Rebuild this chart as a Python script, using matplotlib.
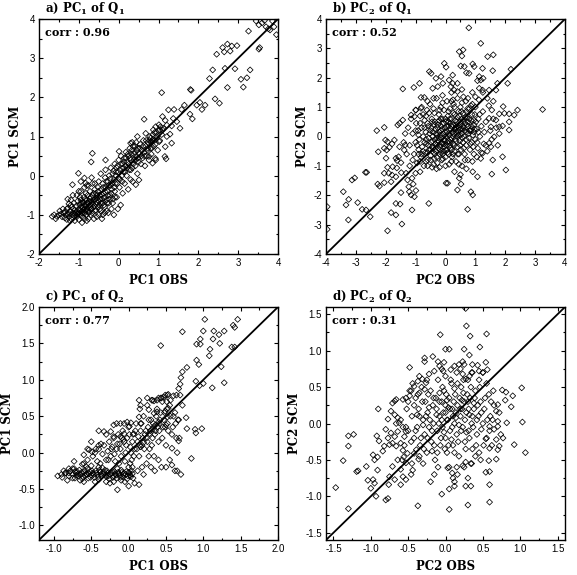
import numpy as np
import matplotlib
matplotlib.use("Agg")
import matplotlib.pyplot as plt
from matplotlib.ticker import MultipleLocator, FormatStrFormatter

plt.rcParams['mathtext.fontset'] = 'custom'
plt.rcParams['mathtext.rm'] = 'DejaVu Serif:bold'
plt.rcParams['mathtext.default'] = 'rm'

# ---------------- data (OBS, SCM) pairs ----------------
pc1_q1 = [
 (-1.67,-1.04),(-1.62,-1.0),(-1.58,-1.1),(-1.55,-1.04),(-1.48,-0.9),(-1.45,-0.98),(-1.42,-1.05),(-1.38,-0.95),
 (-1.35,-1.08),(-1.32,-1.0),(-1.3,-0.85),(-1.28,-0.98),(-1.28,-0.6),(-1.25,-1.05),(-1.25,-0.72),(-1.22,-0.9),
 (-1.22,-1.15),(-1.2,-1.1),(-1.2,-0.62),(-1.18,-0.8),(-1.16,-0.23),(-1.15,-0.95),(-1.12,-1.02),(-1.12,-0.7),
 (-1.1,-0.88),(-1.08,-0.95),(-1.05,-1.05),(-1.05,-0.5),(-1.02,-0.98),(-1.01,0.06),(-1.0,-0.85),(-1.0,-0.4),
 (-1.0,-1.12),(-0.98,-0.75),(-0.97,-0.55),(-0.95,-1.0),(-0.95,-0.62),(-0.95,-0.15),(-0.93,-0.7),(-0.92,-0.9),
 (-0.92,-1.2),(-0.9,-0.8),(-0.9,-1.05),(-0.88,-0.95),(-0.88,-0.68),(-0.86,-0.85),(-0.86,-0.3),(-0.86,-0.06),
 (-0.85,-0.75),(-0.84,-0.6),(-0.83,-0.19),(-0.82,-1.0),(-0.82,-0.45),(-0.8,-0.9),(-0.8,-0.7),(-0.8,-1.15),
 (-0.78,-0.5),(-0.78,-0.8),(-0.76,-1.1),(-0.76,-0.25),(-0.75,-0.65),(-0.74,-0.92),(-0.72,-0.4),(-0.72,-0.75),
 (-0.7,-0.55),(-0.7,-0.85),(-0.69,0.35),(-0.68,-0.7),(-0.68,-0.05),(-0.66,-0.95),(-0.66,0.57),(-0.66,-0.2),
 (-0.65,-0.5),(-0.64,-0.8),(-0.62,-0.62),(-0.62,-1.1),(-0.6,-0.35),(-0.6,-0.9),(-0.58,-0.72),(-0.57,-0.45),
 (-0.55,-0.58),(-0.55,-1.05),(-0.52,-0.8),(-0.52,-0.3),(-0.5,-0.65),(-0.5,-0.15),(-0.48,-0.5),(-0.47,-0.85),
 (-0.45,-0.7),(-0.45,0.05),(-0.44,-0.35),(-0.42,-0.6),(-0.42,-1.1),(-0.4,-0.2),(-0.4,-1.0),(-0.38,-0.45),
 (-0.37,-0.75),(-0.35,-0.55),(-0.34,-0.05),(-0.33,0.15),(-0.33,0.4),(-0.32,-0.3),(-0.3,-0.9),(-0.3,-0.62),
 (-0.28,-0.4),(-0.27,-0.15),(-0.26,-0.95),(-0.25,-0.7),(-0.24,0.0),(-0.22,-0.5),(-0.2,-0.25),(-0.2,0.2),
 (-0.18,-0.85),(-0.17,-0.35),(-0.15,0.05),(-0.14,-0.6),(-0.12,-0.1),(-0.12,-1.0),(-0.1,0.3),(-0.1,-0.4),
 (-0.08,-0.2),(-0.06,0.1),(-0.05,-0.55),(-0.03,0.25),(-0.02,-0.85),(0.0,-0.05),(0.0,0.4),(0.01,0.62),
 (0.02,-0.3),(0.04,0.15),(0.05,-0.75),(0.06,0.5),(0.08,0.0),(0.1,0.3),(0.1,-0.45),(0.12,0.1),(0.14,0.45),
 (0.15,-0.2),(0.17,0.25),(0.18,0.6),(0.2,0.0),(0.22,0.35),(0.24,-0.35),(0.25,0.5),(0.27,0.15),(0.28,0.7),
 (0.3,-0.1),(0.3,0.4),(0.3,0.83),(0.32,0.55),(0.34,0.2),(0.34,0.85),(0.35,-0.15),(0.36,0.75),(0.38,0.4),
 (0.4,0.6),(0.42,0.25),(0.43,-0.23),(0.44,0.85),(0.45,0.5),(0.47,0.05),(0.47,1.0),(0.48,0.7),(0.5,0.35),
 (0.51,-0.11),(0.52,0.55),(0.54,0.8),(0.56,0.3),(0.58,0.65),(0.6,0.45),(0.62,0.9),(0.64,0.6),(0.64,1.44),
 (0.66,0.25),(0.68,0.75),(0.68,1.08),(0.7,0.5),(0.72,0.65),(0.74,0.85),(0.76,0.4),(0.76,0.49),(0.78,1.0),
 (0.8,0.7),(0.8,0.96),(0.82,0.55),(0.83,0.87),(0.83,0.7),(0.85,0.9),(0.85,0.32),(0.87,1.17),(0.88,0.75),
 (0.9,1.1),(0.92,0.8),(0.92,0.44),(0.93,1.25),(0.93,0.4),(0.95,1.0),(0.96,0.95),(0.98,0.65),(1.0,1.15),
 (1.01,1.3),(1.02,0.87),(1.03,0.9),(1.04,1.17),(1.05,1.25),(1.08,1.05),(1.08,2.12),(1.1,1.51),(1.1,1.17),
 (1.12,1.21),(1.16,0.49),(1.17,1.41),(1.17,0.74),(1.19,0.43),(1.21,1.0),(1.21,1.29),(1.25,1.68),(1.29,1.06),
 (1.33,1.27),(1.33,0.83),(1.37,1.46),(1.39,1.69),(1.46,1.38),(1.54,1.21),(1.58,1.69),(1.65,1.8),(1.79,1.57),
 (1.8,2.2),(1.82,2.18),(1.85,1.45),(1.96,1.8),(2.04,1.87),(2.09,1.69),(2.17,1.8),(2.28,2.48),(2.36,2.7),
 (2.42,1.96),(2.46,3.1),(2.53,1.85),(2.61,3.27),(2.65,3.16),(2.67,2.74),(2.73,3.36),(2.73,2.25),(2.8,3.18),
 (2.84,3.31),(2.92,2.73),(2.97,3.32),(3.07,2.46),(3.13,2.26),(3.22,2.5),(3.26,3.69),(3.3,2.7),(3.52,3.23),
 (3.54,3.27),(3.45,3.95),(3.52,3.85),(3.6,3.9),(3.66,3.96),(3.7,3.8),(3.76,3.75),(3.8,3.72),(3.86,3.95),
 (3.9,3.8),(3.96,3.6),
 (-1.35,-0.92),(-1.3,-1.12),(-1.27,-0.82),(-1.24,-0.97),(-1.2,-0.75),(-1.17,-1.0),(-1.14,-0.85),(-1.1,-0.97),
 (-1.07,-0.78),(-1.05,-0.9),(-1.03,-0.65),(-1.0,-0.95),(-0.98,-0.88),(-0.96,-0.7),(-0.94,-0.8),(-0.92,-0.95),
 (-0.9,-0.68),(-0.89,-0.87),(-0.87,-0.55),(-0.85,-0.95),(-0.83,-0.78),(-0.81,-0.62),(-0.79,-0.85),(-0.77,-0.7),
 (-0.75,-0.95),(-0.73,-0.58),(-0.71,-0.8),(-0.69,-0.65),(-0.67,-0.85),(-0.65,-0.72),(-0.63,-0.45),(-0.61,-0.78),
 (-0.59,-0.6),(-0.57,-0.88),(-0.55,-0.5),(-0.53,-0.7),(-0.51,-0.4),(-0.49,-0.75),(-0.47,-0.6),(-0.45,-0.9),
 (-0.43,-0.48),(-0.41,-0.7),(-0.39,-0.3),(-0.37,-0.58),(-0.35,-0.8),(-0.33,-0.42),(-0.31,-0.15),(-0.29,-0.7),
 (-0.27,-0.5),(-0.25,-0.25),(-0.23,-0.6),(-0.21,-0.08),(-0.19,-0.45),(-0.17,-0.2),(-0.15,-0.7),(-0.13,0.12),
 (-0.11,-0.3),(-0.09,-0.55),(-0.07,0.0),(-0.05,0.2),(-0.03,-0.2),(-0.01,0.1),(0.03,-0.1),(0.07,0.3),
 (0.09,-0.15),(0.11,0.2),(0.13,0.35),(0.16,0.1),(0.19,0.45),(0.21,0.2),(0.23,0.55),(0.26,0.3),(0.29,0.45),
 (0.31,0.15),(0.33,0.65),(0.37,0.3),(0.39,0.55),(0.41,0.75),(0.43,0.4),(0.46,0.65),(0.49,0.45),(0.53,0.7),
 (0.57,0.5),(0.61,0.75),(0.65,0.5),(0.69,0.9),(0.73,0.7),(0.77,0.9),(0.81,0.85),(0.86,1.05),(0.9,0.9),
 (0.94,1.1),(-1.4,-0.85),(-1.5,-1.0),(-1.1,-1.15),(-0.85,-1.1),(-0.7,-1.0),(-0.5,-1.0),(-0.35,-0.95),
 (-0.6,-0.2),(-0.8,-0.25),(-0.95,-0.4),(-1.15,-0.5),
]

pc2_q1 = [
 (-3.96,-2.39),(-3.96,-3.16),(-3.42,-1.88),(-3.24,-2.14),(-3.33,-2.33),(-2.94,-2.25),(-3.25,-2.84),
 (-3.13,-1.48),(-3.04,-1.41),(-2.79,-2.48),(-2.66,-2.5),(-2.52,-2.73),(-2.68,-1.22),(-2.64,-1.22),
 (-2.3,0.2),(-2.05,0.31),(-2.25,-0.52),(-2.27,-1.62),(-2.21,-1.69),(-2.05,-1.57),(-1.94,-3.21),
 (-1.82,-2.59),(-1.66,-2.67),(-1.66,-2.28),(-1.52,-2.3),(-1.46,-2.98),(-1.12,-2.5),
 (-2.01,-0.12),(-1.94,-0.18),(-2.05,-0.4),(-1.97,-0.46),(-1.88,-0.37),(-1.79,-0.25),(-1.71,-0.12),
 (-1.66,-0.74),(-1.62,-0.82),(-1.77,-1.03),(-1.63,-1.07),(-1.49,-0.89),(-1.38,-0.46),(-1.35,-0.29),
 (-1.54,-0.35),(-1.57,-0.69),(-1.79,-1.31),(-1.66,-1.37),(-1.48,-1.23),(-1.99,-0.74),(-1.94,-1.05),
 (-1.9,-1.25),(-2.05,-1.25),(-1.82,-1.54),(-1.49,-1.91),(-1.23,-1.71),(-1.08,-1.62),(-0.99,-1.84),
 (-1.21,-1.88),(-1.15,-1.99),(-1.04,-2.05),(-1.32,-1.25),(-1.27,-1.48),(-1.12,-1.42),
 (-1.43,1.62),(-1.06,1.67),(-0.87,1.81),(-1.54,0.45),(-1.43,0.56),(-1.6,0.39),(-1.15,0.73),(-1.04,0.68),
 (-0.99,0.9),(-0.82,0.96),(-0.82,1.33),(-0.71,1.33),(-0.54,2.21),(-0.48,2.15),(-0.04,2.49),(0.02,2.36),
 (-0.32,1.98),(-0.15,2.04),(-0.43,1.64),(-0.26,1.7),(-0.09,1.81),(-0.56,-2.28),(0.02,-1.59),
 (1.18,3.17),(0.46,2.89),(0.59,2.95),(0.55,2.74),(1.41,2.72),(1.6,2.78),(0.51,2.4),(0.63,2.38),(0.7,2.17),
 (0.79,2.15),(0.91,2.47),(0.96,2.38),(1.24,2.32),(1.58,2.24),(0.24,2.09),(0.12,1.92),(0.24,1.81),
 (0.4,1.81),(0.18,1.7),(0.29,1.58),(0.4,1.53),(1.13,2.04),(1.18,1.92),(1.07,1.9),(1.26,1.98),(2.19,2.29),
 (1.74,1.81),(2.08,1.81),(1.13,1.64),(1.24,1.58),(1.46,1.58),(1.69,1.58),(3.25,0.92),(2.41,0.9),
 (2.3,0.73),(2.13,0.77),(1.97,0.79),(2.13,0.5),(1.93,1.02),(1.8,0.77),(1.69,0.56),(1.46,0.62),(1.52,0.33),
 (1.8,0.33),(1.91,0.36),(2.13,0.22),(1.63,-0.01),(1.46,-0.23),(1.52,-0.35),(1.58,-0.8),(1.24,-0.57),
 (1.91,-0.69),(2.02,-1.14),(1.55,-1.28),(0.91,-1.2),(1.07,-1.37),(0.46,-1.42),(0.52,-1.62),(0.4,-1.82),
 (0.07,-1.59),(0.85,-1.88),(0.91,-1.99),(0.74,-2.48),(0.78,3.7),
 (-1.2,-0.3),(-1.1,0.1),(-1.05,-0.6),(-1.0,-0.2),(-0.98,0.45),(-0.95,-0.9),(-0.92,0.2),(-0.9,-0.45),
 (-0.88,-0.1),(-0.85,0.7),(-0.82,-0.7),(-0.8,0.3),(-0.78,-0.35),(-0.75,0.0),(-0.72,-1.0),(-0.7,0.55),
 (-0.68,-0.55),(-0.66,0.15),(-0.64,-0.25),(-0.62,0.9),(-0.6,-0.8),(-0.58,0.35),(-0.56,-0.05),(-0.55,-0.45),
 (-0.52,1.1),(-0.5,-0.65),(-0.5,0.2),(-0.48,-0.2),(-0.46,0.6),(-0.45,-1.05),(-0.43,0.0),(-0.42,-0.4),
 (-0.4,0.4),(-0.38,-0.75),(-0.37,0.8),(-0.35,-0.1),(-0.34,0.25),(-0.32,-0.5),(-0.3,1.3),(-0.3,-0.3),
 (-0.28,0.05),(-0.27,-0.9),(-0.25,0.5),(-0.24,-0.15),(-0.22,0.75),(-0.2,-0.6),(-0.2,0.15),(-0.18,-0.35),
 (-0.16,1.0),(-0.15,-0.05),(-0.14,0.35),(-0.12,-0.8),(-0.1,0.6),(-0.1,-0.25),(-0.08,0.1),(-0.06,-0.5),
 (-0.05,0.9),(-0.04,-0.1),(-0.02,0.3),(0.0,-0.7),(0.0,0.0),(0.02,0.5),(0.03,-0.3),(0.05,1.2),(0.05,0.15),
 (0.07,-0.55),(0.08,0.7),(0.1,-0.15),(0.1,0.35),(0.12,-0.95),(0.13,0.05),(0.15,0.95),(0.16,-0.4),
 (0.18,0.25),(0.2,-0.05),(0.2,0.6),(0.22,-0.7),(0.24,0.4),(0.25,-0.25),(0.27,1.1),(0.28,0.1),(0.3,-0.5),
 (0.3,0.75),(0.32,-0.1),(0.34,0.3),(0.35,-0.85),(0.37,0.5),(0.38,0.0),(0.4,1.3),(0.4,-0.35),(0.42,0.2),
 (0.44,0.85),(0.45,-0.6),(0.47,0.4),(0.48,-0.15),(0.5,0.05),(0.5,1.0),(0.52,-0.45),(0.54,0.6),(0.55,-1.0),
 (0.57,0.25),(0.58,-0.2),(0.6,0.8),(0.62,0.0),(0.64,-0.6),(0.65,0.45),(0.68,1.2),(0.7,-0.3),(0.7,0.15),
 (0.72,0.65),(0.75,-0.8),(0.76,0.35),(0.78,-0.05),(0.8,0.95),(0.82,-0.45),(0.84,0.2),(0.86,0.55),
 (0.88,-0.2),(0.9,1.1),(0.92,0.05),(0.95,-0.6),(0.96,0.4),(0.98,0.75),(1.0,-0.1),(1.05,0.25),(1.08,-0.4),
 (1.1,0.6),(1.12,1.25),(1.15,0.0),(1.18,-0.75),(1.2,0.35),(1.25,0.85),(1.28,-0.25),(1.3,0.15),(1.35,0.5),
 (1.4,-0.5),(1.45,1.05),(1.5,0.2),
 (-0.6,-0.55),(-0.45,-0.35),(-0.35,-0.6),(-0.25,-0.4),(-0.15,-0.55),(-0.05,-0.35),(0.05,-0.45),(0.15,-0.2),
 (0.25,0.0),(0.35,0.15),(0.45,0.3),(0.55,0.1),(0.15,0.45),(-0.15,0.2),(-0.3,-0.05),(-0.5,-0.8),(-0.4,-0.95),
 (-0.2,-1.05),(-0.65,-0.85),(-0.8,-0.6),(0.6,0.35),(0.75,0.5),(0.85,0.25),(0.95,0.15),(0.1,0.85),(0.25,1.25),
 (0.6,1.35),(0.75,1.3),(0.85,1.05),(1.0,1.0),(0.4,0.65),(-0.1,-0.75),(-0.7,-0.2),(-0.9,-0.6),(-1.1,-0.8),
 (-1.2,-1.0),(-1.3,-0.6),(-1.4,-0.2),(-1.0,-1.25),(-0.85,-1.2),(0.3,-1.2),(0.5,-1.3),(0.7,-1.1),(0.9,-0.85),
 (1.05,-0.7),(1.2,-0.55),(1.35,-0.3),(1.55,-0.1),(1.6,0.6),(1.7,0.3),(1.8,0.1),(1.75,-0.3),(1.55,0.9),
 (1.6,1.2),(1.4,1.3),(1.25,1.5),(1.0,1.35),(0.9,1.5),(0.55,1.6),(0.2,1.5),(-0.1,1.4),(-0.4,1.3),(-0.6,1.2),
 (-0.8,1.0),(-1.0,0.9),(-1.15,0.6),(-1.25,0.3),(-1.35,0.1),(-0.85,0.45),(-0.65,0.7),
 (-0.75,-0.5),(-0.7,0.3),(-0.65,-0.1),(-0.6,0.45),(-0.57,-0.3),(-0.53,0.1),(-0.5,-0.45),(-0.47,0.3),
 (-0.44,-0.15),(-0.41,0.15),(-0.39,-0.55),(-0.36,0.5),(-0.33,-0.25),(-0.31,0.1),(-0.29,-0.7),(-0.26,0.3),
 (-0.23,-0.05),(-0.21,0.55),(-0.19,-0.45),(-0.17,0.05),(-0.13,-0.2),(-0.11,0.25),(-0.09,-0.6),(-0.07,0.45),
 (-0.03,-0.15),(-0.01,0.15),(0.01,-0.45),(0.04,0.35),(0.06,-0.2),(0.09,0.1),(0.11,-0.6),(0.14,0.6),
 (0.17,-0.1),(0.19,0.35),(0.21,-0.45),(0.23,0.15),(0.26,0.8),(0.29,-0.3),(0.31,0.25),(0.33,0.55),
 (0.36,-0.15),(0.39,0.35),(0.41,-0.6),(0.43,0.05),(0.46,0.7),(0.49,-0.3),(0.51,0.25),(0.53,0.85),
 (0.56,-0.05),(0.59,0.55),(0.61,-0.4),(0.63,0.2),(0.66,0.65),(0.69,-0.1),(0.71,0.4),(0.74,0.95),(0.77,0.1),
 (0.79,0.6),(0.83,-0.25),(0.87,0.35),(0.89,0.75),(0.93,-0.35),(0.97,0.25),(1.02,0.5),(1.06,-0.2),(1.1,0.15),
 (1.14,0.75),(-0.9,0.05),(-0.95,-0.3),(-1.0,0.2),(-0.85,-0.85),(-0.6,-1.0),(-0.3,-1.1),(0.0,-1.0),(0.2,-0.85),
 (0.45,-0.95),(0.65,-0.8),(0.0,0.6),(-0.2,0.9),(-0.4,0.95),(0.3,1.0),(0.2,1.2),(0.55,1.15),(-0.1,1.15),
 (-0.55,0.8),(-0.75,0.75),(0.1,0.5),(0.35,0.4),(-0.05,-0.25),(0.25,-0.6),(0.6,0.3),(0.8,0.2),(0.95,0.55),
 (-0.25,0.4),(-0.45,0.5),(0.15,-0.3),(0.4,0.1),(-0.15,0.6),(0.7,0.85),(0.5,0.5),
]

pc1_q2 = [
 (1.02,1.83),(1.46,1.83),(0.72,1.66),(0.43,1.47),(1.0,1.67),(1.14,1.67),(1.21,1.62),(1.28,1.67),(1.13,1.56),
 (1.22,1.5),(0.96,1.56),(0.91,1.49),(0.96,1.49),(1.09,1.42),(1.08,1.33),(1.4,1.75),(1.42,1.72),(1.38,1.45),
 (1.42,1.45),(0.91,1.27),(0.94,1.21),(0.78,1.17),(0.72,1.11),(0.7,1.03),(0.69,0.94),(0.67,0.88),(1.24,1.18),
 (1.28,0.96),(1.12,0.89),(0.9,0.98),(0.95,0.92),(1.0,0.95),(0.64,0.79),(0.6,0.78),(0.69,0.79),(0.53,0.8),
 (0.49,0.79),(0.44,0.75),(0.4,0.75),(0.34,0.71),(0.31,0.72),(0.56,0.72),(0.51,0.7),(0.53,0.61),(0.49,0.57),
 (0.72,0.65),(0.77,0.48),(0.67,0.45),(0.63,0.4),(0.78,0.33),(0.89,0.32),(0.9,0.27),(0.98,0.33),(0.67,0.16),
 (0.58,0.06),(0.84,-0.08),(0.58,-0.17),(0.65,-0.25),
 (-0.95,-0.32),(-0.87,-0.25),(-0.84,-0.28),(-0.8,-0.28),(-0.75,-0.35),(-0.89,-0.34),(-0.82,-0.38),
 (-0.73,-0.22),(-0.72,-0.26),(-0.73,-0.12),(-0.62,-0.16),(-0.57,-0.19),(-0.6,-0.03),(-0.53,0.04),(-0.49,0.01),
 (-0.44,0.05),(-0.4,0.1),(-0.37,0.12),(-0.33,0.29),(-0.24,0.29),(-0.2,0.22),(-0.16,0.4),(-0.11,0.4),
 (-0.06,0.4),(-0.02,0.42),(0.03,0.41),(0.01,0.36),(-0.11,0.22),(0.07,0.26),(-0.06,0.26),(-0.15,-0.51),
 (0.0,-0.46),(0.14,-0.44),(0.14,0.72),(0.16,0.65),(0.25,0.75),(0.32,0.72),(0.38,0.72),(0.43,0.75),(0.47,0.76),
 (0.52,0.79),(0.27,0.59),(0.34,0.54),(0.38,0.56),(0.14,0.49),(0.16,0.4),(0.34,0.36),(0.41,0.4),(0.5,0.38),
 (0.52,0.49),
 (-0.85,-0.28),(-0.8,-0.32),(-0.78,-0.25),(-0.75,-0.3),(-0.72,-0.35),(-0.7,-0.28),(-0.68,-0.32),(-0.66,-0.24),
 (-0.64,-0.3),(-0.62,-0.36),(-0.6,-0.27),(-0.58,-0.32),(-0.56,-0.29),(-0.54,-0.35),(-0.52,-0.26),(-0.5,-0.31),
 (-0.48,-0.28),(-0.46,-0.34),(-0.44,-0.25),(-0.42,-0.3),(-0.4,-0.37),(-0.38,-0.27),(-0.36,-0.32),(-0.34,-0.29),
 (-0.32,-0.24),(-0.3,-0.33),(-0.28,-0.28),(-0.26,-0.36),(-0.24,-0.3),(-0.22,-0.26),(-0.2,-0.32),(-0.18,-0.29),
 (-0.16,-0.35),(-0.14,-0.27),(-0.12,-0.31),(-0.1,-0.24),(-0.08,-0.33),(-0.06,-0.28),(-0.04,-0.3),(-0.02,-0.36),
 (0.0,-0.27),(0.02,-0.31),(0.04,-0.25),(-0.55,-0.22),(-0.45,-0.4),(-0.35,-0.21),(-0.25,-0.42),(-0.15,-0.22),
 (-0.05,-0.4),(-0.65,-0.38),(-0.75,-0.22),(-0.3,-0.4),(-0.1,-0.38),
 (-0.6,-0.15),(-0.55,-0.1),(-0.5,-0.18),(-0.48,-0.05),(-0.45,0.0),(-0.42,-0.12),(-0.4,0.05),(-0.38,-0.15),
 (-0.35,-0.02),(-0.33,0.1),(-0.3,-0.1),(-0.28,0.02),(-0.26,0.15),(-0.24,-0.05),(-0.22,0.08),(-0.2,0.2),
 (-0.18,-0.12),(-0.16,0.05),(-0.14,0.25),(-0.12,0.12),(-0.1,-0.05),(-0.08,0.3),(-0.06,0.15),(-0.04,0.0),
 (-0.02,0.2),(0.0,0.35),(0.02,0.08),(0.04,-0.1),(0.06,0.25),(0.08,0.05),(0.1,0.4),(0.12,0.15),(0.14,-0.05),
 (0.16,0.3),(0.18,0.1),(0.2,0.5),(0.22,0.25),(0.24,-0.15),(0.26,0.35),(0.28,0.05),(0.3,0.45),(0.32,0.2),
 (0.34,-0.05),(0.36,0.3),(0.38,0.6),(0.4,0.15),(0.42,0.45),(0.44,-0.2),(0.46,0.35),(0.48,0.55),(0.5,0.1),
 (0.52,0.4),(0.55,-0.1),(0.58,0.25),(0.6,0.5),(0.62,-0.25),(0.65,0.0),(0.68,0.2),(0.7,-0.3),(0.12,-0.25),
 (0.2,-0.3),(0.3,-0.2),(0.05,-0.2),(0.15,0.6),(0.25,0.65),(-0.3,0.25),(-0.4,0.3),(-0.5,0.15),(-0.55,0.05),
 (-0.2,0.38),(0.08,-0.42),(0.35,-0.25),(0.45,0.7),(0.55,0.65),
 (0.16,0.08),(0.2,0.14),(0.24,0.2),(0.28,0.26),(0.32,0.32),(0.36,0.38),(0.4,0.42),
 (-0.7,-0.31),(-0.69,-0.26),(-0.67,-0.29),(-0.63,-0.27),(-0.61,-0.33),(-0.59,-0.24),(-0.57,-0.3),(-0.53,-0.29),
 (-0.51,-0.34),(-0.49,-0.25),(-0.47,-0.3),(-0.43,-0.28),(-0.41,-0.33),(-0.39,-0.24),(-0.37,-0.3),(-0.33,-0.27),
 (-0.31,-0.31),(-0.29,-0.25),(-0.27,-0.32),(-0.23,-0.28),(-0.21,-0.34),(-0.19,-0.26),(-0.17,-0.31),(-0.13,-0.29),
 (-0.11,-0.34),(-0.09,-0.27),(-0.07,-0.3),(-0.03,-0.26),(-0.01,-0.32),(0.01,-0.28),(0.03,-0.33),(0.05,-0.29),
 (-0.9,-0.3),(-0.8,-0.22),(-0.6,-0.4),(-0.4,-0.2),(-0.2,-0.4),(0.0,-0.2),(0.06,-0.35),
 (-0.27,-0.1),(-0.23,0.05),(-0.19,-0.02),(-0.15,0.12),(-0.11,0.05),(-0.07,0.18),(-0.05,-0.12),(-0.03,0.1),
 (0.01,0.25),(0.03,0.0),(0.05,0.15),(0.07,-0.05),(0.09,0.3),(0.11,0.05),(0.13,0.22),(0.15,0.1),(0.17,0.4),
 (0.19,0.2),(0.21,0.05),(0.23,0.3),(0.25,0.15),(0.27,0.45),(0.29,0.3),(0.31,0.1),(0.33,0.4),(0.35,0.25),
 (0.37,0.5),(0.39,0.35),(0.41,0.3),(0.43,0.55),(0.45,0.2),(0.47,0.45),(0.49,0.35),(0.51,0.6),(0.53,0.3),
 (0.56,0.5),(0.59,0.35),(0.62,0.55),(0.64,0.2),(0.66,0.45),(-0.13,-0.15),(-0.09,0.2),(0.02,-0.15),(0.18,-0.2),
 (0.27,-0.05),(0.4,-0.1),(0.5,-0.2),
]

pc2_q2 = [
 (-1.47,-0.88),(-1.3,-1.17),(-1.37,-0.51),(-1.3,-0.17),(-1.23,-0.15),(-1.3,-0.31),(-1.19,-0.66),
 (-1.06,-0.59),(-1.04,-0.78),(-0.97,-0.77),(-0.95,-0.82),(-1.0,-0.89),(-0.93,-1.0),(-0.8,-1.05),(-0.91,-0.64),
 (-0.95,-0.5),(-0.97,-0.43),(-0.91,-0.46),(-0.84,-0.38),(-0.82,-0.31),(-0.89,-0.24),(-0.92,-0.17),
 (-0.77,-0.2),(-0.75,-0.29),(-0.71,-0.27),(-0.66,-0.31),(-0.68,-0.18),(-0.73,-0.13),(-0.64,-0.11),
 (-0.62,0.01),(-0.66,0.0),(-0.57,-0.05),(-0.53,-0.11),(-0.55,-0.18),(-0.6,-0.27),(-0.71,-0.59),(-0.64,-0.5),
 (-0.6,-0.63),(-0.57,-0.73),(-0.53,-0.77),(-0.46,-0.7),(-0.44,-0.64),(-0.36,-0.49),(-0.42,-0.41),
 (-0.39,-0.36),(-0.51,-0.41),(-0.57,-0.37),(-0.56,-0.46),(-0.53,-0.54),(-0.37,-1.13),(-0.6,-0.84),
 (-0.68,-0.77),(-0.75,-0.73),(-0.76,-0.84),(-0.9,0.2),(-0.71,0.28),(-0.68,0.31),(-0.66,0.33),(-0.57,0.33),
 (-0.53,0.35),(-0.48,0.38),(-0.73,0.17),(-0.68,0.12),(-0.64,0.08),(-0.77,0.06),(-0.8,-0.08),(-0.48,0.77),
 (-0.37,0.58),(-0.31,0.61),(-0.42,0.51),(-0.46,0.45),(-0.35,0.42),(-0.28,0.47),(-0.26,0.56),(-0.22,0.68),
 (-0.15,0.72),(-0.28,0.9),(-0.28,0.85),(-0.17,0.92),(-0.07,1.22),(0.0,1.02),(-0.08,0.79),(-0.02,0.84),
 (-0.03,0.72),(0.28,1.34),(0.33,1.2),(0.55,1.23),(0.46,1.05),(0.25,1.02),(0.32,0.94),(0.05,1.02),(0.07,0.74),
 (0.12,0.79),(0.18,0.81),(0.23,0.85),(0.25,0.81),(0.36,0.81),(0.43,0.8),(0.45,0.72),(0.54,0.84),(0.56,0.74),
 (0.5,0.7),(0.36,0.7),(0.32,0.65),(0.27,0.61),(0.23,0.68),(1.02,0.49),(0.76,0.46),(0.81,0.43),(0.9,0.38),
 (0.8,0.32),(0.88,0.23),(0.7,0.26),(0.68,0.17),(0.72,0.15),(0.82,0.01),(1.03,0.02),(0.7,0.03),(0.63,0.05),
 (0.59,-0.04),(0.65,-0.08),(0.7,-0.04),(0.74,-0.15),(0.68,-0.22),(0.77,-0.2),(0.72,-0.31),(0.7,-0.36),
 (0.59,-0.34),(0.54,-0.21),(0.92,-0.29),(1.07,-0.4),(0.68,-0.49),(0.58,-0.51),(0.47,-0.5),(0.34,-0.55),
 (0.27,-0.53),(0.23,-0.58),(0.16,-0.7),(0.09,-0.68),(0.03,-0.61),(0.59,-0.66),(0.12,-0.8),(0.12,-0.86),
 (0.27,-0.86),(0.34,-0.86),(0.59,-0.84),(0.54,-0.67),(0.05,-1.18),(0.3,-1.12),(0.59,-1.08),(-0.05,-0.97),
 (0.05,-0.9),(-1.17,-0.65),(-0.77,-1.03),(0.27,1.58),
 (-0.45,0.1),(-0.42,-0.2),(-0.4,0.35),(-0.38,-0.05),(-0.36,0.2),(-0.34,-0.3),(-0.32,0.5),(-0.3,0.05),
 (-0.28,-0.15),(-0.27,0.3),(-0.25,-0.4),(-0.24,0.15),(-0.22,-0.05),(-0.2,0.45),(-0.19,-0.25),(-0.17,0.25),
 (-0.16,0.0),(-0.14,-0.5),(-0.13,0.35),(-0.11,-0.1),(-0.1,0.6),(-0.08,0.1),(-0.07,-0.3),(-0.05,0.3),
 (-0.04,-0.05),(-0.02,0.45),(0.0,-0.2),(0.0,0.15),(0.02,-0.4),(0.03,0.05),(0.05,0.35),(0.06,-0.1),(0.08,0.55),
 (0.09,0.2),(0.1,-0.3),(0.12,0.0),(0.13,0.4),(0.15,-0.15),(0.16,0.25),(0.18,-0.45),(0.2,0.1),(0.21,0.5),
 (0.23,-0.05),(0.25,0.3),(0.26,-0.25),(0.28,0.15),(0.3,0.6),(0.31,-0.1),(0.33,0.35),(0.35,0.0),(0.36,-0.35),
 (0.38,0.2),(0.4,0.45),(0.42,-0.15),(0.44,0.1),(0.45,-0.4),(0.47,0.3),(0.5,0.0),(0.52,0.2),(0.55,-0.2),
 (0.58,0.4),(0.6,0.1),(0.62,-0.3),(0.65,0.25),(-0.5,-0.1),(-0.52,0.2),(-0.55,-0.3),(-0.48,0.45),(-0.6,0.05),
 (-0.58,-0.5),(0.15,0.7),(0.05,-0.6),(-0.15,-0.7),(0.25,-0.6),(-0.3,-0.55),(0.35,0.7),(-0.05,0.75),
 (0.45,0.6),(-0.2,-0.8),(0.1,-0.75),(0.3,-0.75),(-0.35,0.65),(0.55,0.55),(-0.1,0.85),
 (-0.12,0.12),(0.04,0.22),(0.14,0.08),(-0.02,-0.12),(0.22,0.32),(0.32,0.12),(-0.22,0.22),(-0.3,-0.02),
 (0.08,-0.22),(0.18,-0.02),(0.28,-0.12),(0.38,0.28),(-0.08,0.42),(0.12,0.48),(0.42,0.05),(0.48,-0.08),
 (-0.38,0.12),(0.02,0.32),(0.24,0.42),(-0.18,-0.38),(0.1,0.1),(-0.05,0.05),(0.2,0.2),(0.3,0.3),(0.0,0.25),
 (-0.42,0.25),(-0.4,-0.1),(-0.37,0.4),(-0.35,0.1),(-0.33,-0.2),(-0.31,0.3),(-0.29,-0.35),(-0.26,0.1),
 (-0.24,-0.2),(-0.23,0.4),(-0.21,0.05),(-0.18,-0.1),(-0.16,0.35),(-0.15,-0.3),(-0.12,0.2),(-0.11,-0.4),
 (-0.09,0.0),(-0.08,0.3),(-0.06,-0.2),(-0.04,0.5),(-0.03,0.15),(-0.01,-0.35),(0.01,0.4),(0.02,0.05),
 (0.04,-0.3),(0.06,0.2),(0.07,0.6),(0.09,-0.05),(0.11,0.3),(0.12,-0.4),(0.14,0.15),(0.16,0.55),(0.17,-0.25),
 (0.19,0.35),(0.21,-0.1),(0.22,0.2),(0.24,0.6),(0.26,0.05),(0.27,-0.35),(0.29,0.4),(0.31,0.2),(0.32,-0.2),
 (0.34,0.5),(0.36,0.1),(0.37,-0.05),(0.39,0.35),(0.41,-0.3),(0.43,0.25),(0.46,0.5),(0.48,0.15),(0.51,-0.3),
 (0.53,0.35),(0.56,0.05),(0.59,-0.1),(0.61,0.3),(0.64,0.45),(-0.46,-0.25),(-0.5,0.3),(-0.53,-0.05),
 (-0.44,0.55),(-0.25,0.6),(0.0,0.65),(0.2,0.75),(-0.1,-0.6),(0.15,-0.6),(0.35,-0.55),(0.4,-0.45),
 (-0.35,-0.45),(-0.45,-0.55),(0.5,0.7),
]

titles = ["a) PC$_1$ of Q$_1$", "b) PC$_2$ of Q$_1$", "c) PC$_1$ of Q$_2$", "d) PC$_2$ of Q$_2$"]
corr_labels = ["corr : 0.96", "corr : 0.52", "corr : 0.77", "corr : 0.31"]
xlabels = ["PC1 OBS", "PC2 OBS", "PC1 OBS", "PC2 OBS"]
ylabels = ["PC1 SCM", "PC2 SCM", "PC1 SCM", "PC2 SCM"]
limits = [(-2, 4), (-4, 4), (-1.2, 2.0), (-1.6, 1.6)]
major_steps = [1, 1, 0.5, 0.5]
minor_steps = [0.5, 0.5, 0.25, 0.25]
tick_fmts = ["%d", "%d", "%.1f", "%.1f"]
datasets = [pc1_q1, pc2_q1, pc1_q2, pc2_q2]

# ---------------- figure ----------------
fig = plt.figure(figsize=(5.77, 5.75), dpi=100)
W, H = 577, 575
boxes = [(39, 19, 239, 235), (326, 19, 239, 235), (39, 307, 239, 233), (326, 307, 239, 233)]

serif_bold = dict(family="DejaVu Serif", weight="bold")

for i in range(4):
    l, t, w, h = boxes[i]
    ax = fig.add_axes([l / W, 1 - (t + h) / H, w / W, h / H])
    pts = np.array(datasets[i])
    lo, hi = limits[i]
    ax.set_xlim(lo, hi)
    ax.set_ylim(lo, hi)
    ax.plot([lo, hi], [lo, hi], color="black", lw=1.3, zorder=3)
    ax.scatter(pts[:, 0], pts[:, 1], marker="D", s=9, facecolors="none",
               edgecolors="black", linewidths=0.55, zorder=2)

    ax.xaxis.set_major_locator(MultipleLocator(major_steps[i]))
    ax.yaxis.set_major_locator(MultipleLocator(major_steps[i]))
    ax.xaxis.set_minor_locator(MultipleLocator(minor_steps[i]))
    ax.yaxis.set_minor_locator(MultipleLocator(minor_steps[i]))
    ax.xaxis.set_major_formatter(FormatStrFormatter(tick_fmts[i]))
    ax.yaxis.set_major_formatter(FormatStrFormatter(tick_fmts[i]))
    ax.tick_params(which="both", direction="in", top=True, right=True, width=0.8)
    ax.tick_params(which="major", length=3.2, labelsize=7, pad=3)
    ax.tick_params(which="minor", length=1.8)
    for lab in ax.get_xticklabels() + ax.get_yticklabels():
        lab.set_family("Liberation Sans")
    for sp in ax.spines.values():
        sp.set_linewidth(1.0)

    ax.text(0.025, 1.012, titles[i], transform=ax.transAxes, ha="left", va="bottom",
            fontsize=8.5, **serif_bold)
    ax.text(0.025, 0.965, corr_labels[i], transform=ax.transAxes, ha="left", va="top",
            fontsize=8, **serif_bold)
    ax.set_xlabel(xlabels[i], fontsize=8.5, labelpad=4, **serif_bold)
    ax.set_ylabel(ylabels[i], fontsize=8.5, labelpad=3, **serif_bold)

fig.savefig("out.png", dpi=100)
